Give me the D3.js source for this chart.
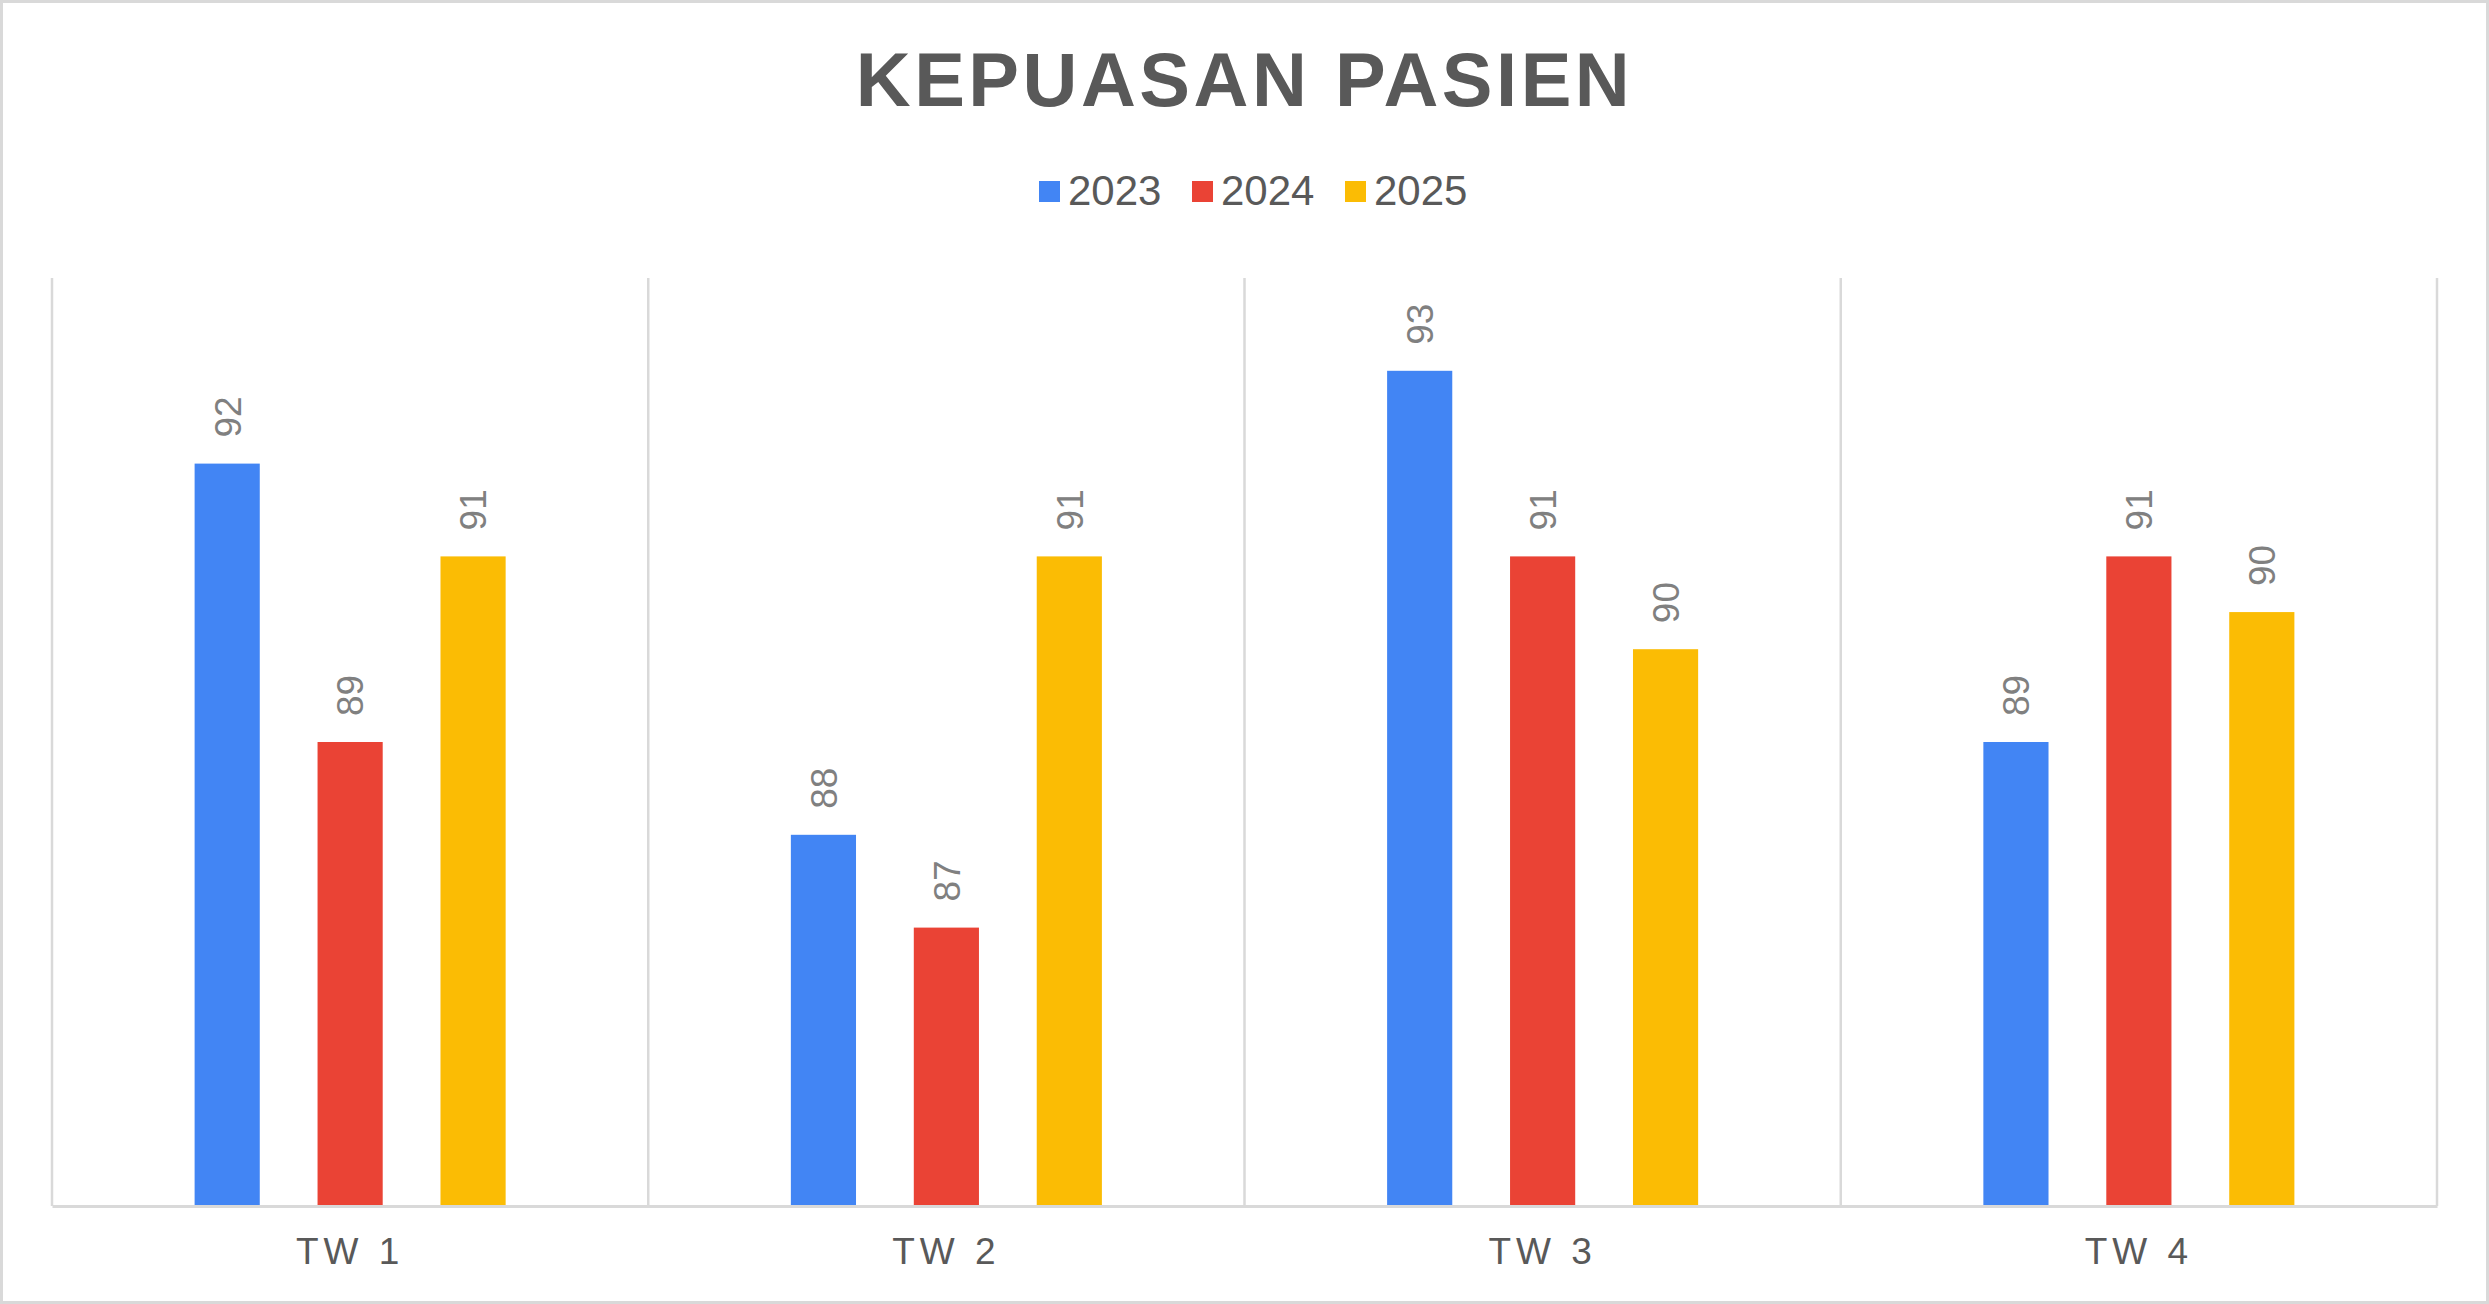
<!DOCTYPE html>
<html>
<head>
<meta charset="utf-8">
<script src="https://cdn.jsdelivr.net/npm/d3@7"></script>
<style>
  body { margin: 0; background: #fff; }
  svg { display: block; }
</style>
</head>
<body>
<svg id="chart"></svg>
<script>
// Data
const quarters = ['TW 1', 'TW 2', 'TW 3', 'TW 4'];
const years = ['2023', '2024', '2025'];
const values2023 = [92, 88, 93, 89];
const values2024 = [89, 87, 91, 91];
const values2025 = [91, 91, 90, 90.4];
const yearColors = ['#4285F4', '#EA4335', '#FBBC04'];
const yDomain = [84, 94];

function drawChart() {
    const width = 2489;
    const height = 1304;
    const margin = { top: 278, right: 52, bottom: 98, left: 52 };
    const font = '"Liberation Sans", Arial, sans-serif';

    const svg = d3.select('#chart')
        .attr('width', width)
        .attr('height', height);

    // Outer border
    svg.append('rect')
        .attr('x', 1.5).attr('y', 1.5)
        .attr('width', width - 3).attr('height', height - 3)
        .attr('fill', '#fff')
        .attr('stroke', '#d9d9d9')
        .attr('stroke-width', 3);

    const series = [values2023, values2024, values2025];
    const rows = quarters.map((q, i) => ({
        quarter: q,
        bars: years.map((y, j) => ({ year: y, value: series[j][i], color: yearColors[j] }))
    }));

    const x0 = d3.scaleBand()
        .domain(quarters)
        .range([margin.left, width - margin.right])
        .padding(0);

    const x1 = d3.scaleBand()
        .domain(years)
        .range([0, x0.bandwidth()])
        .paddingInner(0.47)
        .paddingOuter(1.16);

    const y = d3.scaleLinear()
        .domain(yDomain)
        .range([height - margin.bottom, margin.top]);

    // Category separators
    const bounds = quarters.map(q => x0(q)).concat([x0.range()[1]]);
    svg.append('g')
        .selectAll('line')
        .data(bounds)
        .join('line')
        .attr('x1', d => d).attr('x2', d => d)
        .attr('y1', margin.top).attr('y2', y(yDomain[0]))
        .attr('stroke', '#d9d9d9')
        .attr('stroke-width', 2.5);

    // Bars
    const groups = svg.append('g')
        .selectAll('g')
        .data(rows)
        .join('g')
        .attr('transform', d => `translate(${x0(d.quarter)},0)`);

    groups.selectAll('rect')
        .data(d => d.bars)
        .join('rect')
        .attr('x', d => x1(d.year))
        .attr('y', d => y(d.value))
        .attr('width', x1.bandwidth())
        .attr('height', d => y(yDomain[0]) - y(d.value))
        .attr('fill', d => d.color);

    // Rotated value labels
    groups.selectAll('text')
        .data(d => d.bars)
        .join('text')
        .attr('transform', d => `translate(${x1(d.year) + x1.bandwidth() / 2},${y(d.value) - 26}) rotate(-90)`)
        .attr('dy', '0.36em')
        .attr('text-anchor', 'start')
        .attr('font-family', font)
        .attr('font-size', 37)
        .attr('fill', '#808080')
        .text(d => d3.format('.0f')(d.value));

    // Baseline axis
    const xAxis = svg.append('g')
        .attr('transform', `translate(0,${y(yDomain[0])})`)
        .call(d3.axisBottom(x0).tickSize(0).tickPadding(32));
    xAxis.select('.domain')
        .attr('stroke', '#d9d9d9')
        .attr('stroke-width', 3);
    xAxis.selectAll('text')
        .attr('font-family', font)
        .attr('font-size', 37)
        .attr('letter-spacing', '5px')
        .attr('fill', '#595959');

    // Title
    svg.append('text')
        .attr('x', width / 2)
        .attr('y', 106)
        .attr('text-anchor', 'middle')
        .attr('font-family', font)
        .attr('font-weight', 'bold')
        .attr('font-size', 76)
        .attr('letter-spacing', '3.5px')
        .attr('fill', '#595959')
        .text('KEPUASAN PASIEN');

    // Legend
    const legend = svg.append('g').attr('transform', 'translate(1039,181)');
    const itemStep = 153;
    const item = legend.selectAll('g')
        .data(years)
        .join('g')
        .attr('transform', (d, i) => `translate(${i * itemStep},0)`);
    item.append('rect')
        .attr('width', 21).attr('height', 21)
        .attr('fill', (d, i) => yearColors[i]);
    item.append('text')
        .attr('x', 29)
        .attr('y', 24)
        .attr('font-family', font)
        .attr('font-size', 42)
        .attr('fill', '#595959')
        .text(d => d);
}

drawChart();
</script>
</body>
</html>
